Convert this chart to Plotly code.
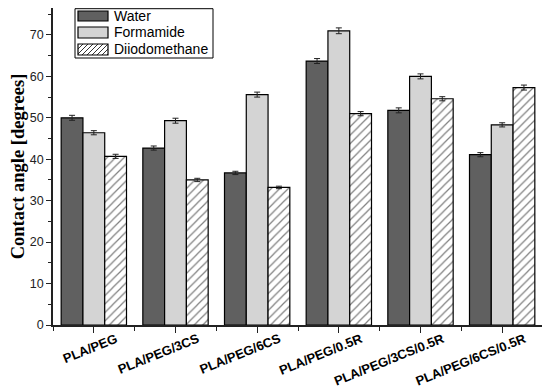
import plotly.graph_objects as go

categories = ["PLA/PEG", "PLA/PEG/3CS", "PLA/PEG/6CS", "PLA/PEG/0.5R", "PLA/PEG/3CS/0.5R", "PLA/PEG/6CS/0.5R"]
water = [50.0, 42.7, 36.7, 63.7, 51.8, 41.1]
water_err = [0.6, 0.5, 0.4, 0.6, 0.6, 0.5]
formamide = [46.4, 49.3, 55.6, 71.0, 60.0, 48.3]
formamide_err = [0.5, 0.6, 0.6, 0.7, 0.6, 0.5]
diiodo = [40.7, 35.0, 33.2, 51.0, 54.6, 57.3]
diiodo_err = [0.5, 0.4, 0.3, 0.5, 0.5, 0.6]
series_names = ["Water", "Formamide", "Diiodomethane"]

xpos = list(range(len(categories)))

# page offset (default body margin of the html page)
OFF = 8
# plot area in page pixels
L, R, T, B = 53, 543, 8, 325
W, H = 550 - OFF, 390 - OFF

def px_x(x):
    return (x - L) / (R - L)

def px_y(y):
    return (B - y) / (B - T)

err_style = dict(type="data", thickness=1, width=3, color="#222")
line_style = dict(color="black", width=1.2)

fig = go.Figure()
fig.add_trace(go.Bar(x=xpos, y=water, name=series_names[0],
                     marker=dict(color="#606060", line=line_style),
                     error_y=dict(array=water_err, **err_style)))
fig.add_trace(go.Bar(x=xpos, y=formamide, name=series_names[1],
                     marker=dict(color="#d4d4d4", line=line_style),
                     error_y=dict(array=formamide_err, **err_style)))
fig.add_trace(go.Bar(x=xpos, y=diiodo, name=series_names[2],
                     marker=dict(color="white", line=line_style,
                                 pattern=dict(shape="/", size=6, solidity=0.2,
                                              fgcolor="black", bgcolor="white")),
                     error_y=dict(array=diiodo_err, **err_style)))

# manual legend (wide swatches like the reference)
shapes = []
annotations = []
shapes.append(dict(type="rect", xref="paper", yref="paper",
                   x0=px_x(75), x1=px_x(213), y0=px_y(58), y1=px_y(8.7),
                   line=dict(color="black", width=1), fillcolor="white", layer="above"))
rows = [(11, 21), (27, 38), (44, 55)]
fills = ["#606060", "#d4d4d4", "white"]
sx0, sx1 = 78, 108
for (ya, yb), fc, nm in zip(rows, fills, series_names):
    shapes.append(dict(type="rect", xref="paper", yref="paper",
                       x0=px_x(sx0), x1=px_x(sx1), y0=px_y(yb), y1=px_y(ya),
                       line=dict(color="black", width=1.2), fillcolor=fc, layer="above"))
    annotations.append(dict(xref="paper", yref="paper", x=px_x(112), y=px_y((ya + yb) / 2),
                            text=nm, showarrow=False, xanchor="left", yanchor="middle",
                            font=dict(family="Liberation Sans, Arial", size=14, color="black")))
# hatch inside the last swatch
ya, yb = rows[2]
h = yb - ya
k = sx0 - h
while k < sx1:
    xa, ya_ = k, yb
    xb, yb_ = k + h, ya
    if xa < sx0:
        d = sx0 - xa
        xa, ya_ = sx0, yb - d
    if xb > sx1:
        d = xb - sx1
        xb, yb_ = sx1, ya + d
    if xb > xa:
        shapes.append(dict(type="line", xref="paper", yref="paper",
                           x0=px_x(xa), y0=px_y(ya_), x1=px_x(xb), y1=px_y(yb_),
                           line=dict(color="black", width=0.8), layer="above"))
    k += 5

axis_font = dict(family="Liberation Sans, Arial", size=12.5, color="#222")

fig.update_layout(
    width=W, height=H,
    margin=dict(l=L - OFF, r=550 - R, t=T - OFF, b=390 - B, autoexpand=False),
    paper_bgcolor="white", plot_bgcolor="white",
    barmode="group", bargap=0.2, bargroupgap=0,
    showlegend=False,
    shapes=shapes, annotations=annotations,
    xaxis=dict(range=[-0.5, len(categories) - 0.5], automargin=False,
               tickvals=xpos, ticktext=categories, tickangle=-22,
               ticklabelshift=22, ticklabelstandoff=-6,
               ticks="outside", ticklen=6, tickwidth=1.2, tickcolor="#222",
               minor=dict(tickvals=[i - 0.5 for i in range(len(categories) + 1)],
                          ticks="outside", ticklen=4, tickcolor="#222", tickwidth=1.2),
               showline=True, linecolor="#222", linewidth=1.5,
               showgrid=False, zeroline=False,
               tickfont=dict(family="Liberation Sans, Arial", size=13, color="black", weight="bold")),
    yaxis=dict(range=[0, 76.5], automargin=False, tickvals=[0, 10, 20, 30, 40, 50, 60, 70],
               ticks="outside", ticklen=5, tickwidth=1.2, tickcolor="#222",
               minor=dict(dtick=5, tick0=0, ticks="outside", ticklen=3, tickcolor="#222", tickwidth=1.2),
               showline=True, linecolor="#222", linewidth=1.5,
               showgrid=False, zeroline=False,
               tickfont=axis_font,
               title=dict(text="Contact angle [degrees]", standoff=10,
                          font=dict(family="Liberation Serif, Times New Roman", size=18.5,
                                    color="black", weight="bold"))),
)

fig.write_html("out.html")
